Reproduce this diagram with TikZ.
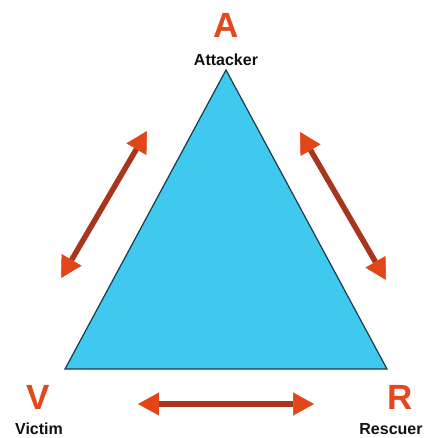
\documentclass[tikz,border=0pt]{standalone}
\usepackage{fontspec}
\setmainfont{Liberation Sans}
\usepackage{tikz}
\usetikzlibrary{arrows.meta,positioning}
\definecolor{TriCyan}{HTML}{3FC9EF}
\definecolor{TriEdge}{HTML}{1A3A4A}
\definecolor{RoleOrange}{HTML}{E4481C}
\definecolor{ArrShaft}{HTML}{A8361C}
\definecolor{ArrHead}{HTML}{E24518}
\definecolor{RoleInk}{HTML}{111111}
\tikzset{
  roleletter/.style={font=\fontsize{35}{35}\selectfont\bfseries, text=RoleOrange, inner sep=0pt},
  rolename/.style={font=\fontsize{16}{16}\selectfont\bfseries, text=RoleInk, inner sep=0pt},
  trifill/.style={fill=TriCyan, draw=TriEdge, line width=1.2pt, line join=miter},
  duoarrow/.style={draw=ArrShaft, line width=5.5pt,
    {Triangle[color=ArrHead, fill=ArrHead, length=21pt, width=23pt, line width=0.5pt]}-{Triangle[color=ArrHead, fill=ArrHead, length=21pt, width=23pt, line width=0.5pt]}}
}
\begin{document}
\begin{tikzpicture}[x=1pt, y=-1pt]
\useasboundingbox (0,0) rectangle (436,438);
% the triangle
\coordinate (top) at (226,70);
\coordinate (left) at (65,369);
\coordinate (right) at (387,369);
\path[trifill] (top) -- (left) -- (right) -- cycle;
% roles
\node[roleletter] (a) at (226,25) {A};
\node[rolename] (att) at (226,60) {Attacker};
\node[roleletter] (v) at (38,397) {V};
\node[rolename] (vic) at (39,429) {Victim};
\node[roleletter] (r) at (400,397) {R};
\node[rolename] (res) at (391,429) {Rescuer};
% arrow ends
\coordinate (av1) at (147,131);
\coordinate (av2) at (61,278);
\coordinate (ar1) at (300,132);
\coordinate (ar2) at (386,280);
\coordinate (vr1) at (138,404);
\coordinate (vr2) at (314,404);
\draw[duoarrow] (av1) -- (av2);
\draw[duoarrow] (ar1) -- (ar2);
\draw[duoarrow] (vr1) -- (vr2);
\end{tikzpicture}
\end{document}
